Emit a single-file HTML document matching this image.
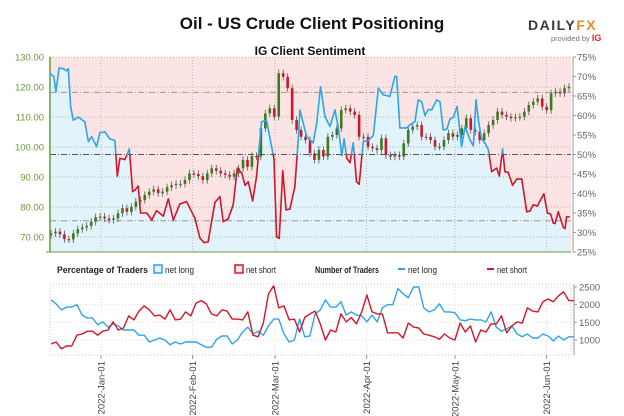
<!DOCTYPE html>
<html><head><meta charset="utf-8">
<style>
html,body{margin:0;padding:0;background:#fff;}
svg{display:block;font-family:"Liberation Sans",Arial,sans-serif;}
</style></head>
<body>
<svg id="chart" width="624" height="416" viewBox="0 0 624 416" xmlns="http://www.w3.org/2000/svg">
<text x="312" y="29" text-anchor="middle" font-size="17" font-weight="bold" fill="#111">Oil - US Crude Client Positioning</text>
<g>
<text x="528" y="30" font-size="14" font-weight="bold" fill="#3a3a3a" letter-spacing="1.5">DAILY<tspan fill="#f08a24">FX</tspan></text>
<text x="551" y="41" font-size="7.5" fill="#777">provided by <tspan fill="#e0202c" font-weight="bold" font-size="9">IG</tspan></text>
</g>
<text x="310" y="55" text-anchor="middle" font-size="12" font-weight="bold" fill="#111">IG Client Sentiment</text>
<g id="main"></g>
<g id="legend" font-size="9" fill="#222">
<text x="57" y="273" font-weight="bold" textLength="91" lengthAdjust="spacingAndGlyphs">Percentage of Traders</text>
<rect x="154" y="265" width="8" height="8" fill="#e3f3fb" stroke="#2fa4e7" stroke-width="1.5"/>
<text x="165" y="273" textLength="29" lengthAdjust="spacingAndGlyphs">net long</text>
<rect x="235" y="265" width="8" height="8" fill="#fde4e4" stroke="#d0162b" stroke-width="1.5"/>
<text x="246" y="273" textLength="30" lengthAdjust="spacingAndGlyphs">net short</text>
<text x="315" y="273" font-weight="bold" textLength="64" lengthAdjust="spacingAndGlyphs">Number of Traders</text>
<line x1="398" y1="269" x2="405" y2="269" stroke="#2fa4e7" stroke-width="2"/>
<text x="408" y="273" textLength="29" lengthAdjust="spacingAndGlyphs">net long</text>
<line x1="487" y1="269" x2="494" y2="269" stroke="#d0162b" stroke-width="2"/>
<text x="497" y="273" textLength="30" lengthAdjust="spacingAndGlyphs">net short</text>
</g>
<g id="bottom"></g>
</svg>
<script>
// ---- data ----
const monthLabels = ["2022-Jan-01","2022-Feb-01","2022-Mar-01","2022-Apr-01","2022-May-01","2022-Jun-01"];
const monthDays = [18,49,77,108,138,169]; // days since 2021-12-14
const priceTicks = [70,80,90,100,110,120,130];
const pctTicks = [25,30,35,40,45,50,55,60,65,70,75];
const countTicks = [1000,1500,2000,2500];
const closes = [71.2,71.8,70.9,69.3,69.2,71.2,72.6,73.2,73.7,75.1,76.6,76.8,76.2,75.7,76.2,77.9,79.6,78.4,80.1,81.8,82.3,84,85.1,85.9,84.6,85.1,86.6,87.3,87.7,87.7,89,91.2,91,90.3,89,91.2,92.9,92.1,91.2,90.7,90.1,91.2,92.9,95.7,93.4,97,96.8,106.2,111.2,112.9,110.1,124.6,123.4,119.6,109,105.7,103.4,102.3,97.9,95.7,99,96.8,103.4,104,106.2,112.3,112.9,111.8,110.7,103.4,103.4,100.1,99.6,99,102.9,97.3,96.8,97.3,96.8,101.2,105.7,106.8,107.3,103.4,103.4,102.3,100.1,100.1,102.3,104.6,103.4,104,106.2,109.6,105.7,105.1,102.3,104.6,107.3,109,111.8,110.7,110.1,109.6,109.9,110.1,111.8,114,115.1,116.2,113.4,112.3,117.9,118.4,117.9,119.6,120.1];
const sentDays = [0.7,2.0,2.7,3.8,5.2,6.3,6.9,7.7,8.6,10.3,12.5,13.7,14.8,16.5,17.6,19.3,21.0,22.7,23.5,24.4,26.1,27.6,28.7,29.5,30.6,31.4,33.5,35.2,36.8,39.1,40.8,42.5,44.7,47.0,49.8,51.5,52.9,54.3,56.6,58.3,59.4,61.1,62.8,64.2,65.7,66.8,67.9,69.4,70.7,72.4,74.1,75.8,76.6,77.5,78.4,79.6,80.7,82.0,83.7,84.8,85.4,87.7,89.9,91.1,92.4,93.9,95.6,97.3,98.4,99.6,100.4,101.3,102.4,103.5,104.6,105.5,106.9,108.6,110.3,112.0,113.7,115.9,117.6,118.2,119.3,121.6,122.7,124.4,125.5,126.7,127.8,128.9,130.1,131.8,132.9,134.0,135.2,136.3,137.4,138.7,140.2,141.4,143.1,144.2,145.1,145.9,147.0,148.1,149.3,150.4,152.1,153.0,154.1,154.9,156.0,157.5,158.9,160.6,162.3,163.4,164.5,165.9,168.1,169.3,170.4,171.3,171.9,173.0,174.7,175.3,175.8,176.7];
const sentLong = [70.8,70,66.1,72.2,72,71.5,72,62.3,58.8,59.6,58.4,53.3,54.6,52,55.6,55.8,54,53.6,44.5,49,48.7,51.4,40.5,40.9,41.9,35,35,33.2,35.6,34.2,38.6,33.2,37.3,37.9,33.7,28.6,27.4,27.6,37.7,39.2,32.8,33.5,37.1,46.5,45.2,42.1,43,38.1,44.3,58.4,58.8,52,49,28.9,28.5,45.8,35.8,36,41.7,53.3,61.4,54.6,53,58,67.4,59.7,57.2,61.4,57,49.8,54,49,47.9,53,43,42.4,53.3,53.6,54.9,67,65.3,64.9,70,70,56.8,56.8,57.6,58.4,64,63.5,60,61.5,61.5,64,63.5,56.3,56.5,59.1,59.5,62.3,52,57.2,53.7,52.2,64,58.8,54,53,51.2,45.6,46.5,44.5,51.4,45.6,45.4,42.1,43.7,43.7,35.3,35.5,37.1,36.8,39.9,35,34.7,32.4,32.3,35.3,31.3,31,34,34];
const countLong = [2136,2023,1852,1932,1932,2000,1705,1625,1625,1432,1511,1364,1455,1398,1284,1284,1284,1136,1136,943,1000,1057,1000,864,943,886,943,943,943,864,796,796,1023,1114,1114,886,1000,1227,1364,1170,1250,1136,1398,1591,1591,1170,943,1000,1591,1091,1114,1739,1852,2136,1932,1932,2080,1705,1795,1705,1682,1511,1705,1511,1909,2000,2000,2455,2307,2193,2500,2500,1909,1795,1852,2023,1795,1795,1773,1568,1545,1591,1568,1568,1511,1795,1364,1250,1318,1398,1170,1091,1170,1057,1057,1170,1114,977,1114,1000,1091,1091];
const countShort = [886,943,750,830,830,1136,1170,1250,1250,1136,1250,1284,1511,1284,1341,1682,1568,1818,1966,1852,1682,1705,1591,1852,1568,1591,1795,1682,2045,2114,2023,1739,1682,1852,1818,1591,1591,1568,1795,1136,1091,1477,2307,2534,1909,1966,1568,1591,1227,1636,1739,1818,1455,1000,1284,1227,1739,1511,1636,1455,1795,2273,1795,1739,1739,1205,1205,1205,1057,1477,1364,1341,1170,1136,1091,1023,1170,1057,1000,1477,1227,1398,943,1284,1227,1455,1455,1682,1205,1398,1511,1477,1909,1818,1795,2080,2159,2080,2250,2364,2114,2114];

// ---- scales ----
const X0=50, X1=571, D0=0.7, D1=177.3;
const xDay = d => X0 + (d-D0)/(D1-D0)*(X1-X0);
const yPrice = p => 57 + (130-p)*3;
const yPct = p => 57 + (75-p)*3.9;
const yCount = c => 287 + (2500-c)*(53/1500);
const NS='http://www.w3.org/2000/svg';
function mk(parent, tag, attrs){const e=document.createElementNS(NS,tag);for(const k in attrs)e.setAttribute(k,attrs[k]);parent.appendChild(e);return e;}
const main=document.getElementById('main');
const bottom=document.getElementById('bottom');

const bg=mk(main,'rect',{x:X0,y:57,width:X1-X0,height:195,fill:'#fde4e4'});


let pts=sentDays.map((d,i)=>xDay(d).toFixed(1)+','+yPct(sentLong[i]).toFixed(1));
const area=mk(main,'polygon',{points:xDay(sentDays[0]).toFixed(1)+',252 '+pts.join(' ')+' '+xDay(sentDays[sentDays.length-1]).toFixed(1)+',252',fill:'#e3f3fb'});



priceTicks.forEach(p=>{
  const y=yPrice(p);
  const g=mk(main,'line',{x1:X0,x2:X1,y1:y,y2:y,stroke:'#a9b98a','stroke-width':1,'stroke-dasharray':'1,2'});
  
  
  const t=mk(main,'text',{x:44,y:y+3.5,'text-anchor':'end','font-size':9.5,fill:'#6a9a3a'});
  t.textContent=p.toFixed(2);
  
  
});
monthDays.forEach(d=>{
  const x=xDay(d);
  const g=mk(main,'line',{x1:x,x2:x,y1:57,y2:252,stroke:'#bbb','stroke-width':1,'stroke-dasharray':'1,2'});
  
  
});
[[118.2,'#999'],[75.4,'#999'],[97.5,'#555']].forEach(r=>{
  const y=yPrice(r[0]);
  const l=mk(main,'line',{x1:X0,x2:X1,y1:y,y2:y,stroke:r[1],'stroke-width':1,'stroke-dasharray':'6,2,1,2'});
  
  
});
const la=mk(main,'line',{x1:X0,x2:X0,y1:57,y2:252,stroke:'#6a9a3a','stroke-width':1.5});


mk(main,'line',{x1:X0-4,x2:X1,y1:252,y2:252,stroke:'#6a9a3a','stroke-width':1});
mk(main,'line',{x1:X1+2,x2:X1+2,y1:57,y2:252,stroke:'#999','stroke-width':1});
pctTicks.forEach(p=>{
  const y=yPct(p);
  mk(main,'line',{x1:X1+2,x2:X1+5,y1:y,y2:y,stroke:'#999'});
  const t=mk(main,'text',{x:X1+6,y:y+3.5,'font-size':9.5,fill:'#666'});
  t.textContent=p+'%';
  
  
});

const n=closes.length, cx0=51, cx1=569;
closes.forEach((c,i)=>{
  const o=i===0?c-0.6:closes[i-1];
  const x=cx0+i*(cx1-cx0)/(n-1);
  const hi=Math.max(o,c)+1.2, lo=Math.min(o,c)-1.2;
  const col=c>=o?'#3c7a22':'#d0162b';
  mk(main,'line',{x1:x,x2:x,y1:yPrice(hi),y2:yPrice(lo),stroke:'#555','stroke-width':0.8});
  const top=yPrice(Math.max(o,c)), h=Math.max(1.2,Math.abs(yPrice(o)-yPrice(c)));
  const r=mk(main,'rect',{x:x-1.3,y:top,width:2.6,height:h,fill:col});
  
  
});

for(let i=0;i<sentDays.length-1;i++){
  let a={x:xDay(sentDays[i]),v:sentLong[i]}, b={x:xDay(sentDays[i+1]),v:sentLong[i+1]};
  let segs=[[a,b]];
  if((a.v-50)*(b.v-50)<0){
    const t=(50-a.v)/(b.v-a.v);
    const m={x:a.x+t*(b.x-a.x),v:50};
    segs=[[a,m],[m,b]];
  }
  segs.forEach(s=>{
    const mid=(s[0].v+s[1].v)/2;
    const l=mk(main,'line',{x1:s[0].x,y1:yPct(s[0].v),x2:s[1].x,y2:yPct(s[1].v),stroke:mid>=50?'#2fa4e7':'#d0162b','stroke-width':1.6,'stroke-linecap':'round'});
    
    
  });
}

const bb=mk(bottom,'rect',{x:X0,y:284,width:X1-X0,height:71,fill:'none',stroke:'#ccc','stroke-dasharray':'1,2'});


countTicks.forEach(c=>{
  const y=yCount(c);
  mk(bottom,'line',{x1:X0,x2:X1,y1:y,y2:y,stroke:'#ddd','stroke-dasharray':'1,2'});
  mk(bottom,'line',{x1:X1+3,x2:X1+6,y1:y,y2:y,stroke:'#999'});
  const t=mk(bottom,'text',{x:X1+8,y:y+3.5,'font-size':9.5,fill:'#666'});
  t.textContent=c;
  
  
});
mk(bottom,'line',{x1:X1+3,x2:X1+3,y1:284,y2:355,stroke:'#999'});
monthDays.forEach((d,i)=>{
  const x=xDay(d);
  mk(bottom,'line',{x1:x,x2:x,y1:284,y2:355,stroke:'#ddd','stroke-dasharray':'1,2'});
  mk(bottom,'line',{x1:x,x2:x,y1:355,y2:359,stroke:'#999'});
  const t=mk(bottom,'text',{x:0,y:0,'font-size':9.5,fill:'#444','text-anchor':'end',transform:'translate('+(x+3.5)+',361) rotate(-90)'});
  t.textContent=monthLabels[i];
  
  
});
function series(arr,col,name){
  const m=arr.length, a0=51, a1=574;
  const p=arr.map((v,i)=>(a0+i*(a1-a0)/(m-1)).toFixed(1)+','+yCount(v).toFixed(1)).join(' ');
  const pl=mk(bottom,'polyline',{points:p,fill:'none',stroke:col,'stroke-width':1.4,'stroke-linejoin':'round'});
  
  
}
series(countLong,'#2fa4e7','net-long-count-line');
series(countShort,'#d0162b','net-short-count-line');
</script>
</body></html>
